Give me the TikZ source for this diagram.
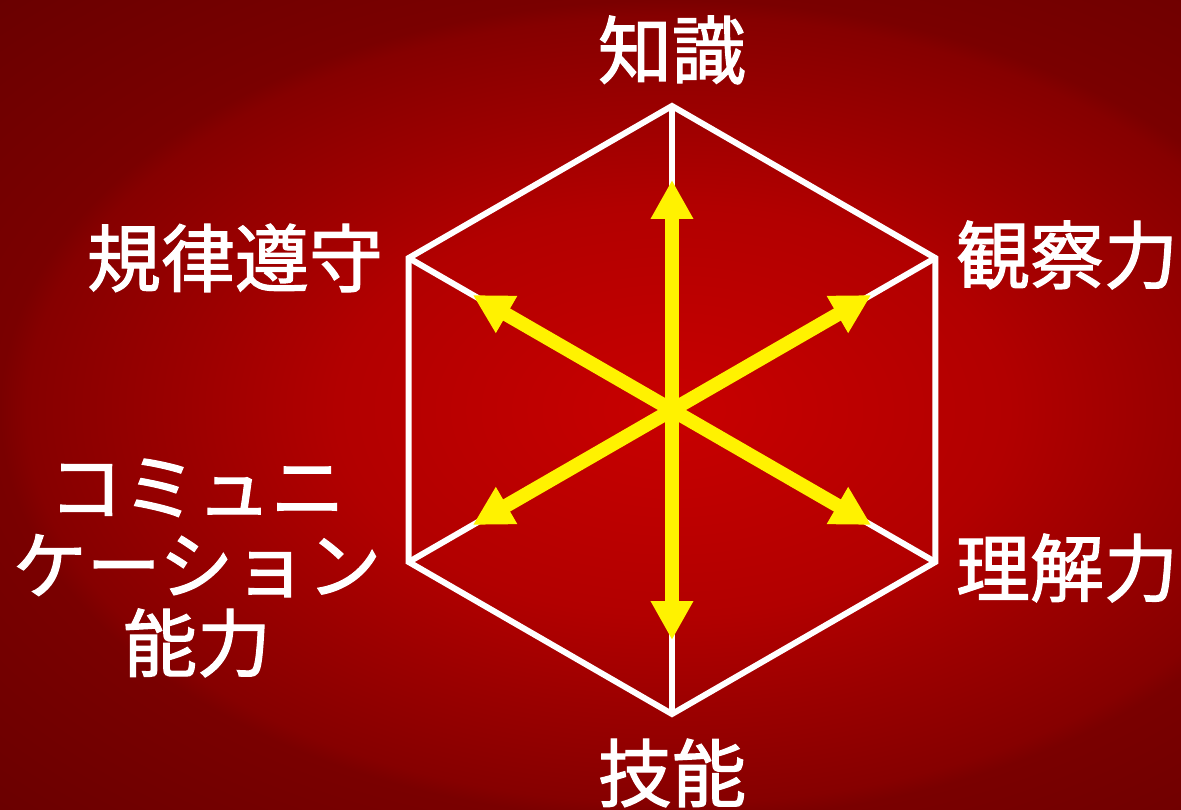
\documentclass[tikz,border=0pt]{standalone}
\usepackage{fontspec}
\newfontfamily\jpfont[FakeBold=1.6]{Noto Sans CJK JP}
\usetikzlibrary{arrows.meta}

\definecolor{bgmid}{RGB}{200,0,0}
\definecolor{bgin}{RGB}{178,0,0}
\definecolor{bgring}{RGB}{156,0,0}
\definecolor{bgedge}{RGB}{134,0,0}
\definecolor{bgside}{RGB}{122,0,0}
\definecolor{bgcorner}{RGB}{106,0,0}
\pgfdeclareradialshading{bgglow}{\pgfpointorigin}{%
  color(0bp)=(bgmid); color(12.5bp)=(bgin); color(18bp)=(bgring);%
  color(24bp)=(bgedge); color(25bp)=(bgside); color(35.5bp)=(bgcorner);%
  color(50bp)=(bgcorner)}

\begin{document}
\begin{tikzpicture}[x=1pt,y=1pt,%
  axis/.style={draw=white,line width=6pt},%
  skill/.style={draw=yellow,line width=14pt,-{Triangle[width=40pt,length=39pt]}},%
  lbl/.style={text=white,inner sep=0pt,align=center,%
    font=\jpfont\fontsize{74}{78}\selectfont}]
  % background
  \useasboundingbox (-672,-399) rectangle (509,410);
  \clip (-672,-399) rectangle (509,410);
  \shade[shading=bgglow] (-672,-410) rectangle (672,410);

  % hexagon and spokes
  \coordinate (c) at (0,0);
  \foreach \a [count=\i from 0] in {90,30,-30,-90,-150,150}
    \coordinate (v\i) at (\a:304);
  \draw[axis] (v0) -- (v1) -- (v2) -- (v3) -- (v4) -- (v5) -- cycle;
  \foreach \i in {0,...,5}
    \draw[axis] (c) -- (v\i);

  % arrows
  \foreach \a [count=\i from 0] in {90,30,-30,-90,-150,150}
    \coordinate (t\i) at (\a:230);
  \foreach \i in {0,...,5}
    \draw[skill] (c) -- (t\i);

  % labels
  \node[lbl] (know)  at (0,360)     {知識};
  \node[lbl] (obs)   at (395,155)   {観察力};
  \node[lbl] (und)   at (395,-158)  {理解力};
  \node[lbl] (skl)   at (0,-363)    {技能};
  \node[lbl] (comm)  at (-475,-158) {コミュニ\\ケーション\\能力};
  \node[lbl] (rule)  at (-437,152)  {規律遵守};
\end{tikzpicture}
\end{document}
